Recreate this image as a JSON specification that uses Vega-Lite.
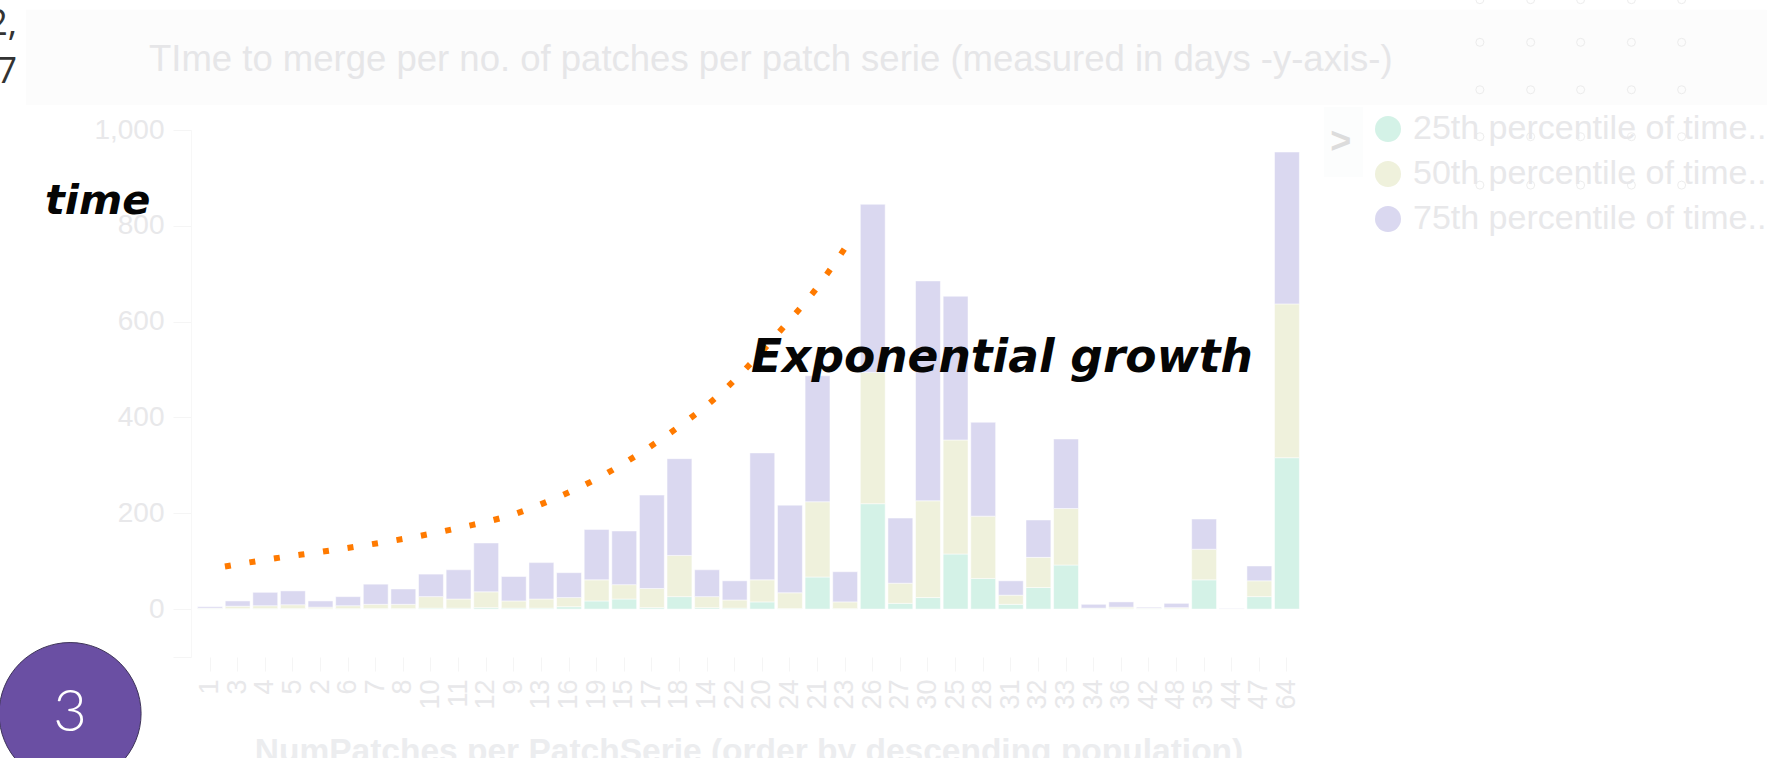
{
"$schema":"https://vega.github.io/schema/vega-lite/v6.json",
"width":1115,"height":527,
"autosize":{"type":"none"},
"padding":{"left":191,"top":130,"right":461,"bottom":101},
"background":"#ffffff",
"config":{"view":{"stroke":null},"font":"Liberation Sans"},
"title":{"text":"TIme to merge per no. of patches per patch serie (measured in days -y-axis-)","anchor":"start","frame":"group","dx":-42,"offset":0,"dy":85,"fontSize":36.5,"fontWeight":"normal","color":"#e6e6e8","font":"Liberation Sans"},
"resolve":{"scale":{"x":"independent","y":"independent"}},
"layer":[
{"data":{"values":[
{"x":-6.64,"x2":56.44,"y":1251,"y2":1052,"f":"#fcfcfc"},
{"x":40.39,"x2":41.8,"y":1048,"y2":902,"f":"#fcfdfd"}]},
"mark":{"type":"rect"},
"encoding":{
"x":{"field":"x","type":"quantitative","scale":{"domain":[-0.659,39.74],"nice":false,"zero":false},"axis":null},
"x2":{"field":"x2"},
"y":{"field":"y","type":"quantitative","scale":{"domain":[-100,1000],"nice":false,"zero":false},"axis":null},
"y2":{"field":"y2"},
"fill":{"field":"f","type":"nominal","scale":null,"legend":null}}},
{"data":{"values":[
{"n":"1","s":"25th percentile of time..","v":1},{"n":"1","s":"50th percentile of time..","v":1},{"n":"1","s":"75th percentile of time..","v":3},
{"n":"3","s":"25th percentile of time..","v":1},{"n":"3","s":"50th percentile of time..","v":5},{"n":"3","s":"75th percentile of time..","v":11},
{"n":"4","s":"25th percentile of time..","v":1},{"n":"4","s":"50th percentile of time..","v":6},{"n":"4","s":"75th percentile of time..","v":28},
{"n":"5","s":"25th percentile of time..","v":1},{"n":"5","s":"50th percentile of time..","v":8},{"n":"5","s":"75th percentile of time..","v":29},
{"n":"2","s":"25th percentile of time..","v":1},{"n":"2","s":"50th percentile of time..","v":3},{"n":"2","s":"75th percentile of time..","v":13},
{"n":"6","s":"25th percentile of time..","v":1},{"n":"6","s":"50th percentile of time..","v":6},{"n":"6","s":"75th percentile of time..","v":19},
{"n":"7","s":"25th percentile of time..","v":1},{"n":"7","s":"50th percentile of time..","v":9},{"n":"7","s":"75th percentile of time..","v":42},
{"n":"8","s":"25th percentile of time..","v":1},{"n":"8","s":"50th percentile of time..","v":9},{"n":"8","s":"75th percentile of time..","v":32},
{"n":"10","s":"25th percentile of time..","v":2},{"n":"10","s":"50th percentile of time..","v":24},{"n":"10","s":"75th percentile of time..","v":47},
{"n":"11","s":"25th percentile of time..","v":2},{"n":"11","s":"50th percentile of time..","v":19},{"n":"11","s":"75th percentile of time..","v":61},
{"n":"12","s":"25th percentile of time..","v":3},{"n":"12","s":"50th percentile of time..","v":33},{"n":"12","s":"75th percentile of time..","v":102},
{"n":"9","s":"25th percentile of time..","v":2},{"n":"9","s":"50th percentile of time..","v":15},{"n":"9","s":"75th percentile of time..","v":51},
{"n":"13","s":"25th percentile of time..","v":2},{"n":"13","s":"50th percentile of time..","v":19},{"n":"13","s":"75th percentile of time..","v":76},
{"n":"16","s":"25th percentile of time..","v":5},{"n":"16","s":"50th percentile of time..","v":19},{"n":"16","s":"75th percentile of time..","v":52},
{"n":"19","s":"25th percentile of time..","v":17},{"n":"19","s":"50th percentile of time..","v":44},{"n":"19","s":"75th percentile of time..","v":105},
{"n":"15","s":"25th percentile of time..","v":21},{"n":"15","s":"50th percentile of time..","v":30},{"n":"15","s":"75th percentile of time..","v":112},
{"n":"17","s":"25th percentile of time..","v":3},{"n":"17","s":"50th percentile of time..","v":40},{"n":"17","s":"75th percentile of time..","v":195},
{"n":"18","s":"25th percentile of time..","v":26},{"n":"18","s":"50th percentile of time..","v":86},{"n":"18","s":"75th percentile of time..","v":202},
{"n":"14","s":"25th percentile of time..","v":3},{"n":"14","s":"50th percentile of time..","v":23},{"n":"14","s":"75th percentile of time..","v":56},
{"n":"22","s":"25th percentile of time..","v":2},{"n":"22","s":"50th percentile of time..","v":17},{"n":"22","s":"75th percentile of time..","v":40},
{"n":"20","s":"25th percentile of time..","v":15},{"n":"20","s":"50th percentile of time..","v":46},{"n":"20","s":"75th percentile of time..","v":265},
{"n":"24","s":"25th percentile of time..","v":1},{"n":"24","s":"50th percentile of time..","v":33},{"n":"24","s":"75th percentile of time..","v":183},
{"n":"21","s":"25th percentile of time..","v":67},{"n":"21","s":"50th percentile of time..","v":157},{"n":"21","s":"75th percentile of time..","v":263},
{"n":"23","s":"25th percentile of time..","v":1},{"n":"23","s":"50th percentile of time..","v":14},{"n":"23","s":"75th percentile of time..","v":63},
{"n":"26","s":"25th percentile of time..","v":220},{"n":"26","s":"50th percentile of time..","v":274},{"n":"26","s":"75th percentile of time..","v":351},
{"n":"27","s":"25th percentile of time..","v":12},{"n":"27","s":"50th percentile of time..","v":42},{"n":"27","s":"75th percentile of time..","v":136},
{"n":"30","s":"25th percentile of time..","v":24},{"n":"30","s":"50th percentile of time..","v":202},{"n":"30","s":"75th percentile of time..","v":459},
{"n":"25","s":"25th percentile of time..","v":115},{"n":"25","s":"50th percentile of time..","v":238},{"n":"25","s":"75th percentile of time..","v":300},
{"n":"28","s":"25th percentile of time..","v":64},{"n":"28","s":"50th percentile of time..","v":130},{"n":"28","s":"75th percentile of time..","v":196},
{"n":"31","s":"25th percentile of time..","v":10},{"n":"31","s":"50th percentile of time..","v":19},{"n":"31","s":"75th percentile of time..","v":30},
{"n":"32","s":"25th percentile of time..","v":45},{"n":"32","s":"50th percentile of time..","v":63},{"n":"32","s":"75th percentile of time..","v":78},
{"n":"33","s":"25th percentile of time..","v":92},{"n":"33","s":"50th percentile of time..","v":118},{"n":"33","s":"75th percentile of time..","v":145},
{"n":"34","s":"25th percentile of time..","v":1},{"n":"34","s":"50th percentile of time..","v":1},{"n":"34","s":"75th percentile of time..","v":8},
{"n":"36","s":"25th percentile of time..","v":1},{"n":"36","s":"50th percentile of time..","v":3},{"n":"36","s":"75th percentile of time..","v":11},
{"n":"42","s":"25th percentile of time..","v":1},{"n":"42","s":"50th percentile of time..","v":1},{"n":"42","s":"75th percentile of time..","v":2},
{"n":"48","s":"25th percentile of time..","v":1},{"n":"48","s":"50th percentile of time..","v":2},{"n":"48","s":"75th percentile of time..","v":9},
{"n":"35","s":"25th percentile of time..","v":61},{"n":"35","s":"50th percentile of time..","v":64},{"n":"35","s":"75th percentile of time..","v":63},
{"n":"44","s":"25th percentile of time..","v":0},{"n":"44","s":"50th percentile of time..","v":1},{"n":"44","s":"75th percentile of time..","v":1},
{"n":"47","s":"25th percentile of time..","v":26},{"n":"47","s":"50th percentile of time..","v":33},{"n":"47","s":"75th percentile of time..","v":31},
{"n":"64","s":"25th percentile of time..","v":316},{"n":"64","s":"50th percentile of time..","v":321},{"n":"64","s":"75th percentile of time..","v":317}
]},
"mark":{"type":"bar","stroke":"#ffffff","strokeWidth":0.5},
"encoding":{
"x":{"field":"n","type":"nominal","sort":null,"scale":{"paddingInner":0.1,"paddingOuter":0.24},
 "axis":{"title":"NumPatches per PatchSerie (order by descending population)","titleFontSize":33.5,"titleFontWeight":"bold","titleColor":"#ecedef","titlePadding":26,"labelAngle":270,"labelFontSize":27,"labelColor":"#e8e8ea","labelPadding":8,"labelOverlap":false,"labelFlush":false,"tickColor":"#f5f5f5","tickSize":14,"domain":false,"grid":false}},
"y":{"field":"v","type":"quantitative","stack":"zero","scale":{"domain":[-100,1000],"nice":false,"zero":false},
 "axis":{"title":null,"values":[-100,0,200,400,600,800,1000],"labelExpr":"datum.value < 0 ? '' : datum.label","labelFontSize":28,"labelColor":"#e8e8ea","labelPadding":9,"tickColor":"#f5f5f5","tickSize":18,"domainColor":"#f7f7f7","grid":false}},
"order":{"field":"s","sort":"ascending"},
"color":{"field":"s","type":"nominal","scale":{"domain":["25th percentile of time..","50th percentile of time..","75th percentile of time.."],"range":["#d4f2e7","#eff1dc","#dad8f0"]},
 "legend":{"title":null,"orient":"none","legendX":1180,"legendY":-18,"symbolType":"circle","symbolSize":676,"symbolStrokeWidth":0,"labelFontSize":34,"labelColor":"#e8e8ea","labelLimit":400,"labelOffset":8,"rowPadding":11,"padding":0}}}},
{"data":{"values":[
{"i":0.57,"t":89},{"i":2.40,"t":106},{"i":4.12,"t":120},{"i":5.84,"t":135},{"i":7.56,"t":152},{"i":9.25,"t":172},{"i":10.93,"t":196},{"i":12.57,"t":232},{"i":14.14,"t":275},{"i":15.63,"t":326},{"i":17.07,"t":383},{"i":18.43,"t":445},{"i":19.66,"t":515},{"i":20.83,"t":590},{"i":21.97,"t":667},{"i":23.08,"t":757}]},
"mark":{"type":"line","color":"#ff7a00","strokeWidth":6,"strokeDash":[6,18.8],"interpolate":"monotone"},
"encoding":{
"x":{"field":"i","type":"quantitative","scale":{"domain":[-0.659,39.74],"nice":false,"zero":false},"axis":null},
"y":{"field":"t","type":"quantitative","scale":{"domain":[-100,1000],"nice":false,"zero":false},"axis":null}}},
{"data":{"values":[
{"i":46.04,"t":1272},{"i":47.88,"t":1272},{"i":49.69,"t":1272},{"i":51.53,"t":1272},{"i":53.35,"t":1272},
{"i":46.04,"t":1183},{"i":47.88,"t":1183},{"i":49.69,"t":1183},{"i":51.53,"t":1183},{"i":53.35,"t":1183},
{"i":46.04,"t":1084},{"i":47.88,"t":1084},{"i":49.69,"t":1084},{"i":51.53,"t":1084},{"i":53.35,"t":1084},
{"i":46.04,"t":986},{"i":47.88,"t":986},{"i":49.69,"t":986},{"i":51.53,"t":986},{"i":53.35,"t":986},
{"i":46.04,"t":885},{"i":47.88,"t":885},{"i":49.69,"t":885},{"i":51.53,"t":885},{"i":53.35,"t":885}]},
"mark":{"type":"point","shape":"circle","size":64,"filled":false,"stroke":"#e6e6e6","strokeWidth":1},
"encoding":{
"x":{"field":"i","type":"quantitative","scale":{"domain":[-0.659,39.74],"nice":false,"zero":false},"axis":null},
"y":{"field":"t","type":"quantitative","scale":{"domain":[-100,1000],"nice":false,"zero":false},"axis":null}}},
{"data":{"values":[{"i":-5.04,"t":-218}]},
"mark":{"type":"point","shape":"circle","size":20164,"filled":true,"fill":"#6a4fa3","stroke":"#3d3358","strokeWidth":1,"opacity":1},
"encoding":{
"x":{"field":"i","type":"quantitative","scale":{"domain":[-0.659,39.74],"nice":false,"zero":false},"axis":null},
"y":{"field":"t","type":"quantitative","scale":{"domain":[-100,1000],"nice":false,"zero":false},"axis":null}}},
{"data":{"values":[{"i":-5.04,"t":-218,"label":"3"}]},
"mark":{"type":"text","font":"Lato","fontWeight":300,"fontSize":58,"color":"#ffffff","align":"center","baseline":"middle"},
"encoding":{
"x":{"field":"i","type":"quantitative","scale":{"domain":[-0.659,39.74],"nice":false,"zero":false},"axis":null},
"y":{"field":"t","type":"quantitative","scale":{"domain":[-100,1000],"nice":false,"zero":false},"axis":null},
"text":{"field":"label"}}},
{"data":{"values":[{"i":-5.95,"t":824,"label":"time"}]},
"mark":{"type":"text","font":"DejaVu Sans","fontWeight":"bold","fontStyle":"italic","fontSize":41.5,"color":"#050505","align":"left","baseline":"alphabetic"},
"encoding":{
"x":{"field":"i","type":"quantitative","scale":{"domain":[-0.659,39.74],"nice":false,"zero":false},"axis":null},
"y":{"field":"t","type":"quantitative","scale":{"domain":[-100,1000],"nice":false,"zero":false},"axis":null},
"text":{"field":"label"}}},
{"data":{"values":[{"i":19.63,"t":494,"label":"Exponential growth"}]},
"mark":{"type":"text","font":"DejaVu Sans","fontWeight":"bold","fontStyle":"italic","fontSize":45.5,"color":"#050505","align":"left","baseline":"alphabetic"},
"encoding":{
"x":{"field":"i","type":"quantitative","scale":{"domain":[-0.659,39.74],"nice":false,"zero":false},"axis":null},
"y":{"field":"t","type":"quantitative","scale":{"domain":[-100,1000],"nice":false,"zero":false},"axis":null},
"text":{"field":"label"}}},
{"data":{"values":[{"i":-6.96,"t":1199,"label":"2,"},{"i":-6.96,"t":1098,"label":"7"}]},
"mark":{"type":"text","font":"Open Sans","fontSize":36,"color":"#333333","align":"right","baseline":"alphabetic"},
"encoding":{
"x":{"field":"i","type":"quantitative","scale":{"domain":[-0.659,39.74],"nice":false,"zero":false},"axis":null},
"y":{"field":"t","type":"quantitative","scale":{"domain":[-100,1000],"nice":false,"zero":false},"axis":null},
"text":{"field":"label"}}},
{"data":{"values":[{"i":41.0,"t":975,"label":">"}]},
"mark":{"type":"text","font":"Liberation Sans","fontWeight":"bold","fontSize":36,"color":"#dcdcdc","align":"center","baseline":"middle"},
"encoding":{
"x":{"field":"i","type":"quantitative","scale":{"domain":[-0.659,39.74],"nice":false,"zero":false},"axis":null},
"y":{"field":"t","type":"quantitative","scale":{"domain":[-100,1000],"nice":false,"zero":false},"axis":null},
"text":{"field":"label"}}}
]
}
